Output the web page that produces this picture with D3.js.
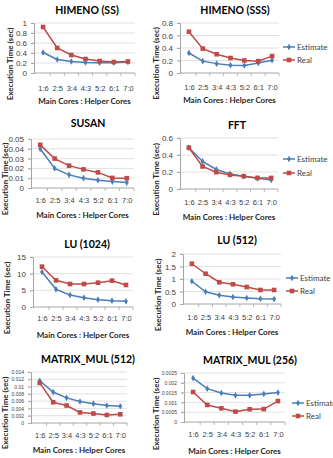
<!DOCTYPE html>
<html lang="en">
<head>
    <meta charset="UTF-8">
    <title>Execution time: estimate vs real</title>
    <script src="https://d3js.org/d3.v7.min.js"></script>
    <style>
        body {margin: 0; background: white;}
        svg {display: block; font-family: Lato, "Open Sans", sans-serif;}
    </style>
</head>
<body>
<script>
    const width = 333;
    const height = 458;

    // categories (main cores : helper cores)
    const cores = ["1:6", "2:5", "3:4", "4:3", "5:2", "6:1", "7:0"];
    const seriesNames = ["Estimate", "Real"];

    // values (seconds)
    const himenoSSEstimate  = [0.41, 0.27, 0.23, 0.21, 0.205, 0.205, 0.22];
    const himenoSSReal      = [0.92, 0.50, 0.36, 0.28, 0.24, 0.22, 0.23];
    const himenoSSSEstimate = [0.32, 0.19, 0.15, 0.125, 0.12, 0.16, 0.205];
    const himenoSSSReal     = [0.66, 0.39, 0.30, 0.24, 0.20, 0.19, 0.27];
    const susanEstimate     = [0.040, 0.020, 0.0134, 0.010, 0.0079, 0.0066, 0.0055];
    const susanReal         = [0.044, 0.030, 0.0228, 0.019, 0.0159, 0.0103, 0.010];
    const fftEstimate       = [0.486, 0.324, 0.23, 0.178, 0.15, 0.126, 0.107];
    const fftReal           = [0.486, 0.265, 0.198, 0.166, 0.15, 0.13, 0.13];
    const lu1024Estimate    = [10.5, 5.3, 3.6, 2.8, 2.2, 1.9, 1.7];
    const lu1024Real        = [12.1, 8.0, 6.9, 6.9, 7.3, 7.9, 6.6];
    const lu512Estimate     = [0.91, 0.49, 0.35, 0.28, 0.24, 0.21, 0.20];
    const lu512Real         = [1.61, 1.21, 0.87, 0.79, 0.68, 0.56, 0.56];
    const mm512Estimate     = [0.0116, 0.0085, 0.0069, 0.0059, 0.0053, 0.0048, 0.0046];
    const mm512Real         = [0.0110, 0.0057, 0.0048, 0.0029, 0.0026, 0.0022, 0.0024];
    const mm256Estimate     = [0.00224, 0.0017, 0.00148, 0.00136, 0.00136, 0.00143, 0.0015];
    const mm256Real         = [0.00153, 0.00087, 0.0007, 0.00053, 0.00065, 0.00066, 0.00107];

    // chart titles, y maxima and tick counts
    const titles = ["HIMENO (SS)", "HIMENO (SSS)", "SUSAN", "FFT",
                    "LU (1024)", "LU (512)", "MATRIX_MUL (512)", "MATRIX_MUL (256)"];
    const yMax   = [1, 0.8, 0.05, 0.6, 15, 2, 0.014, 0.0025];
    const yTicks = [5, 4, 5, 3, 3, 4, 7, 5];

    const colors = {Estimate: "#4a7ebb", Real: "#be4b48"};

    // layout of each panel (pixels)
    const panels = [
        {est: himenoSSEstimate,  real: himenoSSReal,  px0: 36,  px1: 135, top: 23,  bot: 73,  tx: 87,  ty: 10,  lab: 89,  xt: 101, yt: 10,  tick: 8},
        {est: himenoSSSEstimate, real: himenoSSSReal, px0: 182, px1: 279, top: 23,  bot: 73,  tx: 235, ty: 10,  lab: 88,  xt: 100, yt: 156, tick: 8,
            legend: {x: 283, y: 47, dy: 13}},
        {est: susanEstimate,     real: susanReal,     px0: 33,  px1: 134, top: 139, bot: 188, tx: 88,  ty: 123, lab: 201, xt: 215, yt: 5,   tick: 8},
        {est: fftEstimate,       real: fftReal,       px0: 182, px1: 278, top: 138, bot: 189, tx: 237, ty: 125, lab: 203, xt: 217, yt: 156, tick: 8},
        {est: lu1024Estimate,    real: lu1024Real,    px0: 35,  px1: 133, top: 257, bot: 307, tx: 87,  ty: 244, lab: 319, xt: 335, yt: 7,   tick: 8},
        {est: lu512Estimate,     real: lu512Real,     px0: 185, px1: 281, top: 254, bot: 304, tx: 237, ty: 240, lab: 318, xt: 332, yt: 158, tick: 8},
        {est: mm512Estimate,     real: mm512Real,     px0: 33,  px1: 127, top: 372, bot: 423, tx: 88,  ty: 359, lab: 436, xt: 450, yt: 5,   tick: 5},
        {est: mm256Estimate,     real: mm256Real,     px0: 186, px1: 285, top: 373, bot: 422, tx: 250, ty: 360, lab: 435, xt: 451, yt: 156, tick: 5}
    ];
    panels[3].legend = {x: 283, y: 159, dy: 14};
    panels[5].legend = {x: 286, y: 278, dy: 13};
    panels[7].legend = {x: 292, y: 403, dy: 13};

    const svg = d3.select("body").append("svg")
            .attr("width", width).attr("height", height);

    function marker(g, name, x, y) {
        if (name === "Real") {
            g.append("rect")
                    .attr("x", x - 2.3).attr("y", y - 2.3)
                    .attr("width", 4.6).attr("height", 4.6)
                    .style("fill", colors.Real);
        } else {
            g.append("path")
                    .attr("d", d3.symbol(d3.symbolDiamond, 13)())
                    .attr("transform", `translate(${x},${y})`)
                    .style("fill", colors.Estimate);
        }
    }

    panels.forEach(function(p, i) {
        const g = svg.append("g").attr("class", "panel");
        const ax = p.px0 - 2;

        const x = d3.scalePoint().domain(cores).range([p.px0, p.px1]).padding(0.5);
        const y = d3.scaleLinear().domain([0, yMax[i]]).range([p.bot, p.top]);
        const ticks = y.ticks(yTicks[i]);

        // gridlines
        g.append("g").selectAll("line")
                .data(ticks.filter(d => d > 0))
                .enter().append("line")
                .attr("x1", ax - 3).attr("x2", p.px1)
                .attr("y1", d => y(d)).attr("y2", d => y(d))
                .style("stroke", "#d9d9d9").style("stroke-width", 0.8);

        // y axis
        const yAxis = g.append("g")
                .attr("transform", `translate(${ax},0)`)
                .call(d3.axisLeft(y).tickValues(ticks).tickFormat(d3.format("~f"))
                        .tickSize(3).tickPadding(4));
        yAxis.select(".domain").style("stroke", "#a6a6a6");
        yAxis.selectAll(".tick line").style("stroke", "#a6a6a6");
        yAxis.selectAll("text").style("font-size", p.tick + "px").style("fill", "#404040");

        // x axis
        const xAxis = g.append("g")
                .attr("transform", `translate(0,${p.bot})`)
                .call(d3.axisBottom(x).tickSize(0).tickPadding(p.lab - p.bot - 3));
        xAxis.select(".domain").attr("d", `M${ax},0H${p.px1}`).style("stroke", "#a6a6a6");
        xAxis.selectAll("text").style("font-size", "7.5px").style("fill", "#404040");
        // tick marks between categories
        g.append("g").selectAll("line")
                .data(cores)
                .enter().append("line")
                .attr("x1", d => x(d) + x.step() / 2).attr("x2", d => x(d) + x.step() / 2)
                .attr("y1", p.bot).attr("y2", p.bot + 3)
                .style("stroke", "#a6a6a6").style("stroke-width", 0.8);

        // lines and markers
        const line = d3.line().x((d, j) => x(cores[j])).y(d => y(d));
        [["Estimate", p.est], ["Real", p.real]].forEach(function(s) {
            g.append("path")
                    .datum(s[1])
                    .attr("d", line)
                    .style("fill", "none")
                    .style("stroke", colors[s[0]])
                    .style("stroke-width", 1.5);
            s[1].forEach((v, j) => marker(g, s[0], x(cores[j]), y(v)));
        });

        // titles
        g.append("text")
                .attr("x", p.tx).attr("y", p.ty)
                .attr("text-anchor", "middle").attr("dominant-baseline", "central")
                .style("font-size", "10.5px").style("font-weight", "bold")
                .text(titles[i]);

        g.append("text")
                .attr("x", (ax + p.px1) / 2).attr("y", p.xt)
                .attr("text-anchor", "middle").attr("dominant-baseline", "central")
                .style("font-size", "8px").style("font-weight", "bold").style("fill", "#262626")
                .text("Main Cores : Helper Cores");

        g.append("text")
                .attr("transform", `translate(${p.yt},${(p.top + p.xt) / 2 + 2}) rotate(-90)`)
                .attr("text-anchor", "middle").attr("dominant-baseline", "central")
                .style("font-size", "8px").style("font-weight", "bold").style("fill", "#262626")
                .text("Execution Time (sec)");

        // legend
        if (p.legend) {
            seriesNames.forEach(function(name, k) {
                const ly = p.legend.y + k * p.legend.dy;
                g.append("line")
                        .attr("x1", p.legend.x).attr("x2", p.legend.x + 12)
                        .attr("y1", ly).attr("y2", ly)
                        .style("stroke", colors[name]).style("stroke-width", 1.5);
                marker(g, name, p.legend.x + 6, ly);
                g.append("text")
                        .attr("x", p.legend.x + 14).attr("y", ly)
                        .attr("dominant-baseline", "central")
                        .style("font-size", "8px").style("fill", "#404040")
                        .text(name);
            });
        }
    });
</script>
</body>
</html>
